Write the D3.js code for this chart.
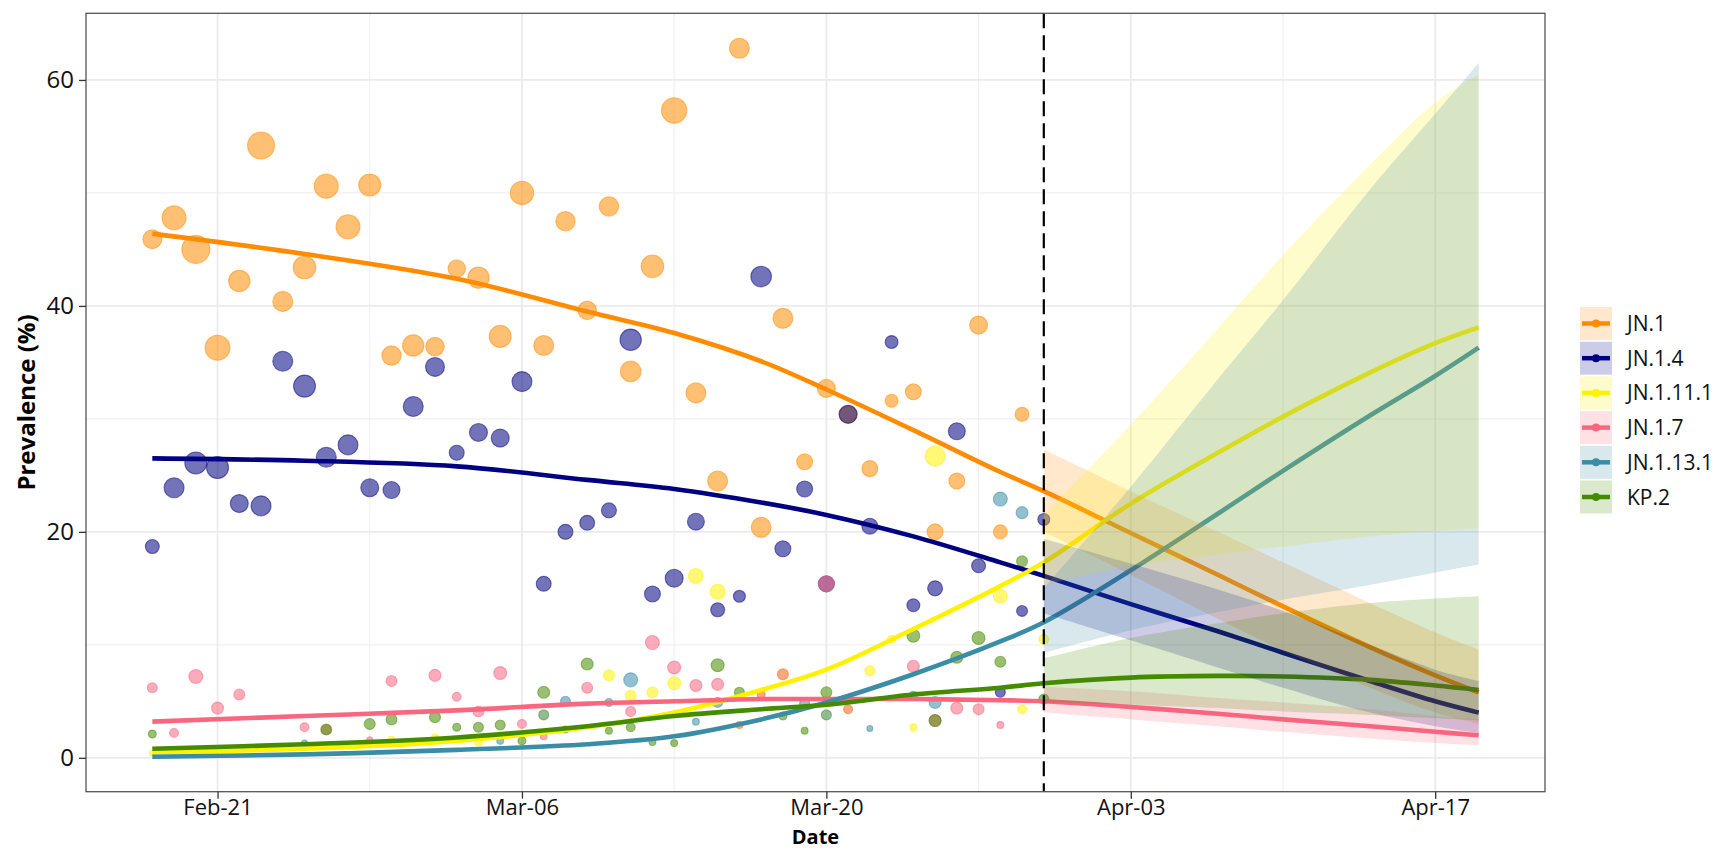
<!DOCTYPE html>
<html lang="en">
<head>
<meta charset="UTF-8">
<title>Variant prevalence</title>
<style>
  body { margin: 0; background: #fff; }
  svg { display: block; font-family: "Open Sans", sans-serif; }
</style>
</head>
<body>
<svg id="viz" width="1714" height="851"></svg>
<script src="https://d3js.org/d3.v7.min.js"></script>
<script>
// ---- data ----
const variants = ["JN.1", "JN.1.4", "JN.1.11.1", "JN.1.7", "JN.1.13.1", "KP.2"];
const colours  = ["#FF8C00", "#000080", "#FFF200", "#F8667F", "#3B8CA6", "#458B00"];

const xTicks = ["2024-02-21", "2024-03-06", "2024-03-20", "2024-04-03", "2024-04-17"];
const xMinor = ["2024-02-28", "2024-03-13", "2024-03-27", "2024-04-10"];
const yTicks = [0, 20, 40, 60];
const yMinor = [10, 30, 50];
const cutoffDate = "2024-03-30";

// fitted trend per variant
const fitDates = ["2024-02-18","2024-02-25","2024-03-03","2024-03-09","2024-03-13","2024-03-17","2024-03-20",
  "2024-03-24","2024-03-28","2024-03-30","2024-04-03","2024-04-07","2024-04-10","2024-04-14","2024-04-17","2024-04-19"];
const fitJN1    = [46.4, 44.6, 42.4, 39.5, 37.6, 35.1, 32.6, 29.0, 25.3, 23.6, 19.9, 16.2, 13.4, 9.8, 7.3, 5.8];
const fitJN14   = [26.5, 26.3, 25.8, 24.6, 23.8, 22.6, 21.5, 19.6, 17.3, 16.1, 13.6, 11.2, 9.3, 6.8, 5.0, 4.0];
const fitJN1111 = [0.5, 0.8, 1.5, 2.7, 4.0, 6.0, 7.8, 11.4, 15.2, 17.3, 22.5, 27.0, 30.2, 34.1, 36.7, 38.1];
const fitJN17   = [3.2, 3.7, 4.2, 4.8, 5.0, 5.2, 5.2, 5.2, 5.1, 5.0, 4.5, 3.9, 3.4, 2.8, 2.3, 2.0];
const fitJN1131 = [0.1, 0.3, 0.7, 1.2, 1.9, 3.4, 4.9, 7.4, 10.3, 12.0, 16.6, 21.6, 25.4, 30.3, 33.8, 36.3];
const fitKP2    = [0.8, 1.2, 1.8, 2.8, 3.7, 4.3, 4.7, 5.6, 6.2, 6.6, 7.1, 7.25, 7.2, 6.9, 6.4, 6.0];

// prediction intervals after the cutoff
const bandDates = ["2024-03-30","2024-04-03","2024-04-07","2024-04-10","2024-04-14","2024-04-17","2024-04-19"];
const lowJN1     = [20.0, 16.2, 12.3, 9.5, 6.2, 4.0, 3.0];
const highJN1    = [27.3, 23.6, 20.0, 17.3, 13.7, 11.1, 9.6];
const lowJN14    = [12.8, 10.4, 8.0, 6.2, 4.0, 2.8, 2.2];
const highJN14   = [19.4, 17.2, 14.9, 13.0, 10.0, 7.8, 6.8];
const lowJN1111  = [15.3, 17.0, 18.0, 18.7, 19.6, 20.1, 20.3];
const highJN1111 = [21.5, 29.5, 38.0, 44.5, 52.5, 58.0, 60.5];
const lowJN17    = [4.0, 3.4, 2.8, 2.3, 1.7, 1.3, 1.1];
const highJN17   = [6.3, 5.9, 5.3, 4.9, 4.3, 3.7, 3.4];
const lowJN1131  = [9.3, 11.3, 12.9, 14.0, 15.3, 16.4, 17.1];
const highJN1131 = [15.0, 24.0, 33.5, 40.5, 50.3, 57.0, 61.5];
const lowKP2     = [4.9, 4.7, 4.4, 4.1, 3.8, 3.5, 3.3];
const highKP2    = [8.8, 10.6, 11.9, 12.8, 13.7, 14.1, 14.3];

// observed daily prevalence: [date, %, sequences]
const ptsJN1 = [
  ["2024-02-18",45.9,90],["2024-02-19",47.8,144],["2024-02-20",45.0,196],["2024-02-21",36.3,156],
  ["2024-02-22",42.2,114],["2024-02-23",54.2,182],["2024-02-24",40.4,100],["2024-02-25",43.4,128],
  ["2024-02-26",50.6,144],["2024-02-27",47.0,144],["2024-02-28",50.7,121],["2024-02-29",35.6,94],
  ["2024-03-01",36.5,114],["2024-03-02",36.4,86],["2024-03-03",43.3,76],["2024-03-04",42.5,114],
  ["2024-03-05",37.3,121],["2024-03-06",50.0,137],["2024-03-07",36.5,100],["2024-03-08",47.5,94],
  ["2024-03-09",39.6,86],["2024-03-10",48.8,94],["2024-03-11",34.2,106],["2024-03-12",43.5,128],
  ["2024-03-13",57.3,161],["2024-03-14",32.3,100],["2024-03-15",24.5,100],["2024-03-16",62.8,100],
  ["2024-03-17",20.4,100],["2024-03-18",38.9,100],["2024-03-19",26.2,64],["2024-03-20",32.7,81],
  ["2024-03-21",30.4,81],["2024-03-22",25.6,64],["2024-03-23",31.6,42],["2024-03-24",32.4,64],
  ["2024-03-25",20.0,64],["2024-03-26",24.5,64],["2024-03-27",38.3,81],["2024-03-28",20.0,49],
  ["2024-03-29",30.4,49]
];
const ptsJN14 = [
  ["2024-02-18",18.7,49],["2024-02-19",23.9,100],["2024-02-20",26.1,121],["2024-02-21",25.7,121],
  ["2024-02-22",22.5,81],["2024-02-23",22.3,100],["2024-02-24",35.1,100],["2024-02-25",32.9,121],
  ["2024-02-26",26.6,100],["2024-02-27",27.7,100],["2024-02-28",23.9,81],["2024-02-29",23.7,72],
  ["2024-03-01",31.1,100],["2024-03-02",34.6,90],["2024-03-03",27.0,56],["2024-03-04",28.8,81],
  ["2024-03-05",28.3,81],["2024-03-06",33.3,100],["2024-03-07",15.4,56],["2024-03-08",20.0,56],
  ["2024-03-09",20.8,56],["2024-03-10",21.9,56],["2024-03-11",37.0,114],["2024-03-12",14.5,64],
  ["2024-03-13",15.9,81],["2024-03-14",20.9,72],["2024-03-15",13.1,49],["2024-03-16",14.3,36],
  ["2024-03-17",42.6,106],["2024-03-18",18.5,64],["2024-03-19",23.8,64],["2024-03-20",15.4,64],
  ["2024-03-21",30.4,81],["2024-03-22",20.5,64],["2024-03-23",36.8,42],["2024-03-24",13.5,42],
  ["2024-03-25",15.0,56],["2024-03-26",28.9,72],["2024-03-27",17.0,49],["2024-03-28",5.8,25],
  ["2024-03-29",13.0,30],["2024-03-30",21.1,36]
];
const ptsJN1111 = [
  ["2024-02-18",0.4,9],["2024-02-29",1.6,12],["2024-03-02",1.8,12],["2024-03-04",1.4,16],
  ["2024-03-07",3.8,25],["2024-03-10",7.3,30],["2024-03-11",5.5,30],["2024-03-12",5.8,30],
  ["2024-03-13",6.6,42],["2024-03-14",16.1,56],["2024-03-15",14.7,56],["2024-03-16",2.9,12],
  ["2024-03-17",5.6,16],["2024-03-18",7.4,30],["2024-03-20",3.8,25],["2024-03-21",4.3,20],
  ["2024-03-22",7.7,25],["2024-03-23",10.5,16],["2024-03-24",2.7,12],["2024-03-25",26.7,100],
  ["2024-03-28",14.3,49],["2024-03-29",4.3,20],["2024-03-30",10.5,25]
];
const ptsJN17 = [
  ["2024-02-18",6.2,25],["2024-02-19",2.2,20],["2024-02-20",7.2,49],["2024-02-21",4.4,36],
  ["2024-02-22",5.6,30],["2024-02-25",2.7,20],["2024-02-26",2.5,25],["2024-02-28",1.6,9],
  ["2024-02-29",6.8,30],["2024-03-02",7.3,36],["2024-03-03",5.4,20],["2024-03-04",4.1,30],
  ["2024-03-05",7.5,42],["2024-03-06",3.0,20],["2024-03-07",1.9,12],["2024-03-09",6.2,30],
  ["2024-03-11",4.1,25],["2024-03-12",10.2,49],["2024-03-13",8.0,42],["2024-03-14",6.4,36],
  ["2024-03-15",6.5,36],["2024-03-16",2.9,12],["2024-03-17",5.6,16],["2024-03-18",7.4,30],
  ["2024-03-20",15.4,64],["2024-03-21",4.3,20],["2024-03-24",8.1,36],["2024-03-25",3.3,36],
  ["2024-03-26",4.4,36],["2024-03-27",4.3,30],["2024-03-28",2.9,12]
];
const ptsJN1131 = [
  ["2024-02-25",1.3,9],["2024-03-05",1.5,12],["2024-03-07",3.8,25],["2024-03-08",5.0,25],
  ["2024-03-10",4.9,16],["2024-03-11",6.9,49],["2024-03-14",3.2,12],["2024-03-15",4.9,25],
  ["2024-03-19",4.8,25],["2024-03-20",3.8,25],["2024-03-22",2.6,9],["2024-03-24",5.5,20],
  ["2024-03-25",4.9,36],["2024-03-28",22.9,49],["2024-03-29",21.7,36]
];
const ptsKP2 = [
  ["2024-02-18",2.1,16],["2024-02-26",2.5,30],["2024-02-28",3.0,30],["2024-02-29",3.4,30],
  ["2024-03-02",3.6,30],["2024-03-03",2.7,16],["2024-03-04",2.7,25],["2024-03-05",2.9,25],
  ["2024-03-06",1.5,16],["2024-03-07",5.8,36],["2024-03-08",2.5,12],["2024-03-09",8.3,36],
  ["2024-03-10",2.4,12],["2024-03-11",2.7,20],["2024-03-12",1.4,12],["2024-03-13",1.3,12],
  ["2024-03-15",8.2,42],["2024-03-16",5.8,25],["2024-03-18",3.7,16],["2024-03-19",2.4,12],
  ["2024-03-20",5.8,30],["2024-03-24",10.8,42],["2024-03-25",3.3,36],["2024-03-26",8.9,36],
  ["2024-03-27",10.6,42],["2024-03-28",8.5,30],["2024-03-29",17.4,30],["2024-03-30",5.2,25]
];

const fits  = [fitJN1, fitJN14, fitJN1111, fitJN17, fitJN1131, fitKP2];
const lows  = [lowJN1, lowJN14, lowJN1111, lowJN17, lowJN1131, lowKP2];
const highs = [highJN1, highJN14, highJN1111, highJN17, highJN1131, highKP2];
const pointSets = [ptsJN1, ptsJN14, ptsJN1111, ptsJN17, ptsJN1131, ptsKP2];

// ---- layout ----
const svg = d3.select("#viz");
const panel = {left: 86, right: 1545, top: 13.3, bottom: 791.7};
const parse = d3.timeParse("%Y-%m-%d");

const dataStart = parse("2024-02-18"), dataEnd = parse("2024-04-19");
const pad = (dataEnd - dataStart) * 0.05;
const x = d3.scaleTime()
  .domain([new Date(+dataStart - pad), new Date(+dataEnd + pad)])
  .range([panel.left, panel.right]);
const y = d3.scaleLinear().domain([-3.0, 65.9]).range([panel.bottom, panel.top]);
const r = d3.scaleSqrt().domain([0, 200]).range([0, Math.sqrt(200)]);

// grid
const grid = svg.append("g");
grid.selectAll(".ymin").data(yMinor).join("line")
  .attr("x1", panel.left).attr("x2", panel.right)
  .attr("y1", d => y(d)).attr("y2", d => y(d))
  .attr("stroke", "#F0F0F0").attr("stroke-width", 1.2);
grid.selectAll(".xmin").data(xMinor).join("line")
  .attr("y1", panel.top).attr("y2", panel.bottom)
  .attr("x1", d => x(parse(d))).attr("x2", d => x(parse(d)))
  .attr("stroke", "#F0F0F0").attr("stroke-width", 1.2);
grid.selectAll(".ymaj").data(yTicks).join("line")
  .attr("x1", panel.left).attr("x2", panel.right)
  .attr("y1", d => y(d)).attr("y2", d => y(d))
  .attr("stroke", "#EBEBEB").attr("stroke-width", 1.8);
grid.selectAll(".xmaj").data(xTicks).join("line")
  .attr("y1", panel.top).attr("y2", panel.bottom)
  .attr("x1", d => x(parse(d))).attr("x2", d => x(parse(d)))
  .attr("stroke", "#EBEBEB").attr("stroke-width", 1.8);

// points
const pts = svg.append("g");
pointSets.forEach((set, i) => {
  pts.selectAll(null).data(set).join("circle")
    .attr("cx", d => x(parse(d[0])))
    .attr("cy", d => y(d[1]))
    .attr("r", d => r(d[2]))
    .attr("fill", colours[i]).attr("fill-opacity", 0.55)
    .attr("stroke", colours[i]).attr("stroke-opacity", 0.5).attr("stroke-width", 1.1);
});

// trend lines
const line = d3.line()
  .x((d, j) => x(parse(fitDates[j])))
  .y(d => y(d))
  .curve(d3.curveCatmullRom.alpha(0.5));
svg.append("g").selectAll("path").data(fits).join("path")
  .attr("d", line)
  .attr("fill", "none")
  .attr("stroke", (d, i) => colours[i])
  .attr("stroke-width", 4.6);

// prediction ribbons
const area = d3.area()
  .x((d, j) => x(parse(bandDates[j])))
  .y0(d => y(d[0]))
  .y1(d => y(d[1]))
  .curve(d3.curveCatmullRom.alpha(0.5));
svg.append("g").selectAll("path").data(variants).join("path")
  .attr("d", (v, i) => area(lows[i].map((lo, j) => [lo, highs[i][j]])))
  .attr("fill", (v, i) => colours[i])
  .attr("fill-opacity", 0.2);

// cutoff
svg.append("line")
  .attr("x1", x(parse(cutoffDate))).attr("x2", x(parse(cutoffDate)))
  .attr("y1", panel.top).attr("y2", panel.bottom)
  .attr("stroke", "#000").attr("stroke-width", 2.2)
  .attr("stroke-dasharray", "15,7");

// panel border
svg.append("rect")
  .attr("x", panel.left).attr("y", panel.top)
  .attr("width", panel.right - panel.left).attr("height", panel.bottom - panel.top)
  .attr("fill", "none").attr("stroke", "#555").attr("stroke-width", 1.3);

// axes
const xAxis = svg.append("g")
  .attr("transform", `translate(0,${panel.bottom})`)
  .call(d3.axisBottom(x).tickValues(xTicks.map(parse))
    .tickFormat(d3.timeFormat("%b-%d")).tickSize(7).tickPadding(1));
const yAxis = svg.append("g")
  .attr("transform", `translate(${panel.left},0)`)
  .call(d3.axisLeft(y).tickValues(yTicks).tickSize(7).tickPadding(5));
[xAxis, yAxis].forEach(a => {
  a.select(".domain").remove();
  a.selectAll(".tick line").attr("stroke", "#333").attr("stroke-width", 1.3);
  a.selectAll(".tick text").attr("fill", "#111")
    .style("font-size", "22px").style("font-family", "'Open Sans', sans-serif");
});
yAxis.selectAll(".tick text").style("font-size", "24px");

svg.append("text")
  .attr("x", (panel.left + panel.right) / 2).attr("y", 844)
  .attr("text-anchor", "middle")
  .style("font-size", "20px").style("font-weight", "bold")
  .text("Date");
svg.append("text")
  .attr("transform", `translate(35,${(panel.top + panel.bottom) / 2}) rotate(-90)`)
  .attr("text-anchor", "middle")
  .style("font-size", "24px").style("font-weight", "bold")
  .text("Prevalence (%)");

// legend
const legend = svg.append("g").attr("transform", "translate(1580,307)");
const keys = legend.selectAll("g").data(variants).join("g")
  .attr("transform", (d, i) => `translate(0,${i * 34.7})`);
keys.append("rect").attr("width", 32).attr("height", 33).attr("fill", "#fff");
keys.append("rect").attr("width", 32).attr("height", 33)
  .attr("fill", (d, i) => colours[i]).attr("fill-opacity", 0.2);
keys.append("line")
  .attr("x1", 2).attr("x2", 30).attr("y1", 16.5).attr("y2", 16.5)
  .attr("stroke", (d, i) => colours[i]).attr("stroke-width", 4.5);
keys.append("circle")
  .attr("cx", 16).attr("cy", 16.5).attr("r", 4)
  .attr("fill", (d, i) => colours[i]);
keys.append("text")
  .attr("x", 47).attr("y", 16.5).attr("dy", "0.36em")
  .style("font-size", "21px").attr("fill", "#111")
  .text(d => d);
</script>
</body>
</html>
